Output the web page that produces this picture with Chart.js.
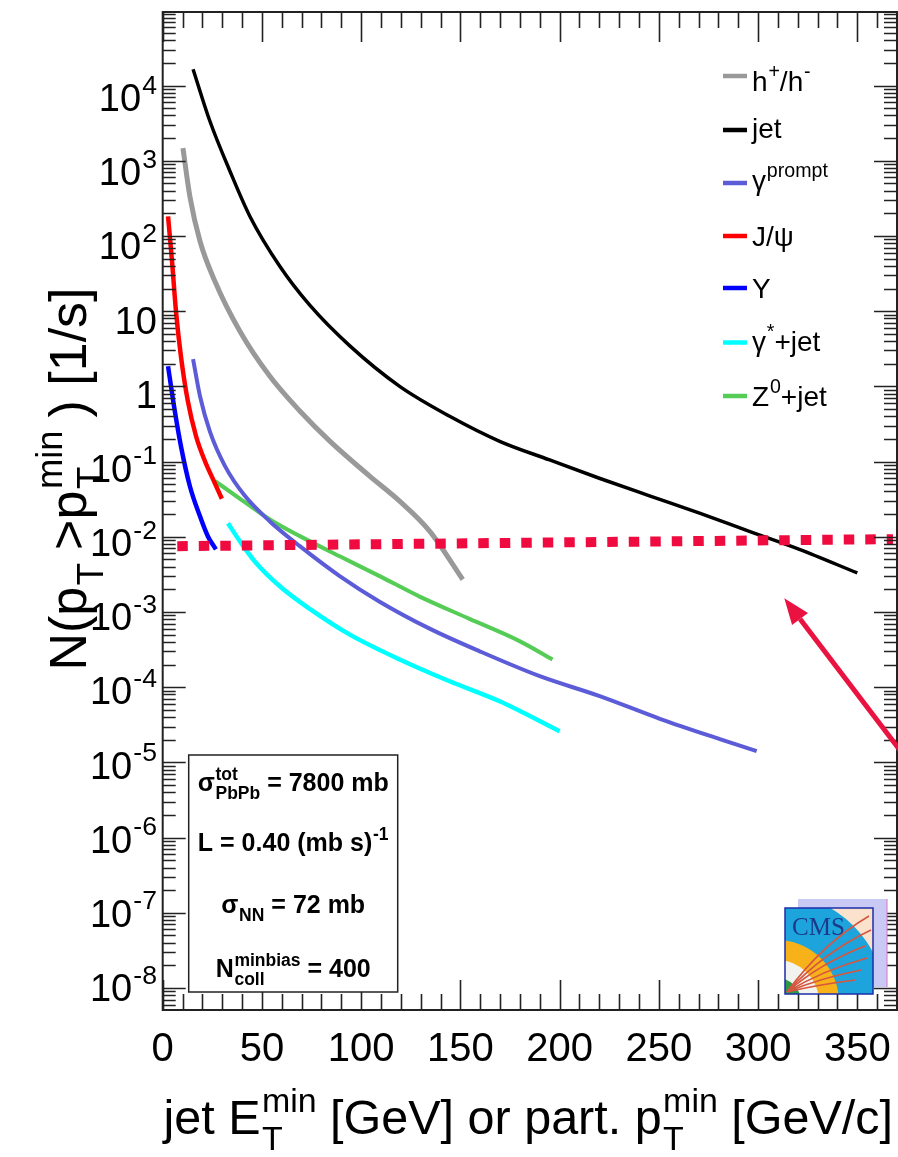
<!DOCTYPE html>
<html><head><meta charset="utf-8">
<script src="https://cdn.jsdelivr.net/npm/chart.js@4.4.0/dist/chart.umd.min.js"></script>
<style>html,body{margin:0;padding:0;background:#fff;}#wrap{width:898px;height:1157px;}</style>
</head><body><div id="wrap"><canvas id="c" width="898" height="1157"></canvas></div>
<script>
// ---------- data ----------
const xTickValues = [0, 50, 100, 150, 200, 250, 300, 350];
const yTickExponents = [-8, -7, -6, -5, -4, -3, -2, -1, 0, 1, 2, 3, 4];

const hadronX = [10.2, 13.7, 18.8, 26.3, 38.9, 54, 69.1, 84.2, 104.3, 119.4, 134.6, 151.2];
const hadronY = [1470, 335, 85, 25, 5.4, 1.36, 0.47, 0.187, 0.064, 0.0297, 0.0118, 0.0027];

const jetX = [15.3, 23.8, 33.9, 43.9, 59, 74.1, 94.3, 119.4, 144.6, 169.8, 195, 220, 245.3, 270.5, 295.6, 320.8, 350];
const jetY = [16500, 3350, 725, 183, 39.5, 12.0, 3.45, 1.0, 0.4, 0.186, 0.105, 0.060, 0.035, 0.0206, 0.0118, 0.0068, 0.0033];

const promptX = [15.3, 18.8, 23.8, 31.4, 41.4, 54, 69.1, 89.2, 109.3, 134.5, 159.7, 190, 220.2, 250.5, 280.7, 299.3];
const promptY = [2.3, 0.74, 0.25, 0.087, 0.035, 0.016, 0.0075, 0.003, 0.00137, 6e-4, 3e-4, 1.4e-4, 7.6e-5, 3.8e-5, 2.04e-5, 1.41e-5];

const jpsiX = [2.7, 4.7, 6.7, 9.2, 12.7, 16.8, 21.3, 25.8, 29.8];
const jpsiY = [182, 46, 9.9, 2.5, 0.63, 0.217, 0.101, 0.055, 0.032];

const upsX = [2.7, 5.7, 9.2, 13.7, 18.8, 22.8, 26.8];
const upsY = [1.85, 0.545, 0.16, 0.047, 0.0187, 0.0101, 0.0068];

const gstarX = [32.9, 38.9, 46.4, 59, 74.1, 94.3, 119.4, 144.6, 169.8, 200];
const gstarY = [0.0151, 0.0087, 0.0047, 0.0022, 0.0011, 5e-4, 2.34e-4, 1.2e-4, 6.5e-5, 2.6e-5];

const zjetX = [26.4, 39, 54, 69.1, 89.2, 109.3, 129.5, 154.6, 179.8, 196.4];
const zjetY = [0.055, 0.032, 0.017, 0.0102, 0.0055, 0.003, 0.0016, 8.1e-4, 4.1e-4, 2.34e-4];

const rateLimitX = [7.35, 368];
const rateLimitY = [7.5e-3, 9.3e-3];

const arrowX = [375, 313.2];
const arrowY = [1.1e-5, 1.52e-3];

const legendLabels = [
  ["h", {sup: "+"}, "/h", {sup: "-"}],
  ["jet"],
  ["\u03b3", {sup: "prompt"}],
  ["J/\u03c8"],
  ["\u03a5"],
  ["\u03b3", {sup: "*"}, "+jet"],
  ["Z", {sup: "0"}, "+jet"]
];
const infoLines = [
  ["\u03c3", {sup: "tot", sub: "PbPb"}, " = 7800 mb"],
  ["L = 0.40 (mb s)", {sup: "-1"}],
  ["\u03c3", {sub: "NN"}, " = 72 mb"],
  ["N", {sup: "minbias", sub: "coll"}, " = 400"]
];
const xTitle = ["jet E", {sup: "min", sub: "T"}, " [GeV] or part. p", {sup: "min", sub: "T"}, " [GeV/c]"];
const yTitle = ["N(p", {sub: "T"}, ">p", {sup: "min", sub: "T"}, ") [1/s]"];

// ---------- styles ----------
const FONT = '"Liberation Sans", Arial, Helvetica, sans-serif';
const series = [
  {x: hadronX, y: hadronY, color: '#999999', w: 5},
  {x: jetX, y: jetY, color: '#000000', w: 3.5},
  {x: promptX, y: promptY, color: '#5c5cd8', w: 4},
  {x: jpsiX, y: jpsiY, color: '#ff0000', w: 4.5},
  {x: upsX, y: upsY, color: '#0000ff', w: 4.5},
  {x: gstarX, y: gstarY, color: '#00ffff', w: 4.5},
  {x: zjetX, y: zjetY, color: '#55cc55', w: 4}
];
const legendBaseOff = [15, 8, 7, 10, 10, 8, 10];

function pts(xs, ys) { return xs.map((v, i) => ({x: v, y: ys[i]})); }

const datasets = [{
  data: pts(rateLimitX, rateLimitY), borderColor: '#ef0a3f', borderWidth: 10,
  borderDash: [10.5, 11], borderCapStyle: 'butt', fill: false, pointRadius: 0
}];
series.forEach(s => datasets.push({
  data: pts(s.x, s.y), borderColor: s.color, borderWidth: s.w, fill: false,
  pointRadius: 0, cubicInterpolationMode: 'monotone', borderJoinStyle: 'round'
}));

// ---------- rich text ----------
const SUPF = 0.7;
let EXTRA = 0;
function fnt(size, bold) { return (bold ? 'bold ' : '') + size + 'px ' + FONT; }
function partWidth(ctx, p, size, bold) {
  if (typeof p === 'string') { ctx.font = fnt(size, bold); return ctx.measureText(p).width; }
  ctx.font = fnt(size * SUPF, bold);
  const a = p.sup ? ctx.measureText(p.sup).width : 0;
  const b = p.sub ? ctx.measureText(p.sub).width : 0;
  return Math.max(a, b) + size * (0.03 + EXTRA);
}
function richWidth(ctx, parts, size, bold) {
  return parts.reduce((s, p) => s + partWidth(ctx, p, size, bold), 0);
}
function drawRich(ctx, parts, x, y, size, bold, color) {
  ctx.fillStyle = color || '#000';
  ctx.textBaseline = 'alphabetic';
  ctx.textAlign = 'left';
  let cx = x;
  parts.forEach(p => {
    if (typeof p === 'string') {
      ctx.font = fnt(size, bold); ctx.fillText(p, cx, y);
    } else {
      ctx.font = fnt(size * SUPF, bold);
      if (p.sup) ctx.fillText(p.sup, cx + size * 0.03, y - size * 0.46);
      if (p.sub) ctx.fillText(p.sub, cx + size * 0.03, y + size * 0.33);
    }
    cx += partWidth(ctx, p, size, bold);
  });
}

// ---------- plugins ----------
const bgPlugin = {
  id: 'bg',
  beforeDraw(c) { const g = c.ctx; g.save(); g.fillStyle = '#fff'; g.fillRect(0, 0, c.width, c.height); g.restore(); }
};

function drawLogo(g, L, T) {
  const S = 88, Hh = 86;
  g.save();
  g.fillStyle = '#c9c9f6'; g.fillRect(L + 13, T - 9, 89, 88);
  g.strokeStyle = '#e070c0'; g.lineWidth = 1; g.beginPath(); g.moveTo(L + 102, T - 9); g.lineTo(L + 102, T + 79); g.stroke();
  g.beginPath(); g.rect(L, T, S, Hh); g.clip();
  g.fillStyle = '#fbe2cc'; g.fillRect(L, T, S, Hh);
  const cx = L - 8, cy = T + Hh + 8;
  const ring = (r, col) => { g.fillStyle = col; g.beginPath(); g.moveTo(cx, cy); g.arc(cx, cy, r, 0, Math.PI * 2); g.fill(); };
  ring(108, '#1ea4dc'); ring(62, '#f7b21a'); ring(42, '#f2f2ee'); ring(24, '#2e9a48');
  g.fillStyle = '#1b3a8c'; g.font = '25px "Liberation Serif", "DejaVu Serif", serif'; g.textBaseline = 'alphabetic';
  g.fillText('CMS', L + 7, T + 27);
  g.strokeStyle = '#d8553e'; g.lineWidth = 1.6;
  const ends = [[84, 8], [86, 22], [80, 38], [82, 50], [76, 62], [70, 72]];
  ends.forEach(e => { g.beginPath(); g.moveTo(L + 2, T + Hh - 2); g.quadraticCurveTo(L + e[0] * 0.45, T + e[1] + (Hh - e[1]) * 0.35, L + e[0], T + e[1]); g.stroke(); });
  g.restore();
  g.save(); g.strokeStyle = '#1c2ea8'; g.lineWidth = 1.5; g.strokeRect(L, T, S, Hh); g.restore();
}

const decoPlugin = {
  id: 'deco',
  afterDraw(c) {
    const g = c.ctx, xs = c.scales.x, ys = c.scales.y, a = c.chartArea;
    g.save();
    // ticks
    g.strokeStyle = '#222'; g.lineWidth = 1.6;
    for (let d = -9; d <= 4; d++) {
      for (let m = 1; m <= 9; m++) {
        const v = m * Math.pow(10, d);
        if (v < ys.min || v > ys.max) continue;
        const py = Math.round(ys.getPixelForValue(v)) + 0.5;
        const len = m === 1 ? 23 : 13;
        g.beginPath(); g.moveTo(a.left, py); g.lineTo(a.left + len, py);
        g.moveTo(a.right, py); g.lineTo(a.right - len, py); g.stroke();
      }
    }
    for (let v = 0; v <= xs.max; v += 10) {
      const px = Math.round(xs.getPixelForValue(v)) + 0.5;
      const len = v % 50 === 0 ? 30 : 16;
      g.beginPath(); g.moveTo(px, a.top); g.lineTo(px, a.top + len);
      g.moveTo(px, a.bottom); g.lineTo(px, a.bottom - len); g.stroke();
    }
    g.lineWidth = 2; g.strokeStyle = '#222';
    g.strokeRect(a.left, a.top, a.right - a.left, a.bottom - a.top);

    // info box
    const bx = a.left + 26, by = 755, bw = 209, bh = 237;
    g.fillStyle = '#fff'; g.fillRect(bx, by, bw, bh);
    g.lineWidth = 1.5; g.strokeStyle = '#222'; g.strokeRect(bx, by, bw, bh);
    const infoBase = [791, 851, 913, 977];
    infoLines.forEach((ln, i) => {
      const w = richWidth(g, ln, 25, true);
      drawRich(g, ln, bx + bw / 2 - w / 2, infoBase[i], 25, true);
    });

    // legend
    const legY = [76, 130, 183, 236, 288, 342.5, 396];
    legendLabels.forEach((lab, i) => {
      const s = series[i];
      g.strokeStyle = s.color; g.lineWidth = 4.5; g.lineCap = 'butt';
      g.beginPath(); g.moveTo(723, legY[i]); g.lineTo(747, legY[i]); g.stroke();
      drawRich(g, lab, 752, legY[i] + legendBaseOff[i], 28, false);
    });

    // logo
    drawLogo(g, a.right - 112, a.bottom - 102);

    // arrow
    const x0 = xs.getPixelForValue(arrowX[0]), y0 = ys.getPixelForValue(arrowY[0]);
    const x1 = xs.getPixelForValue(arrowX[1]), y1 = ys.getPixelForValue(arrowY[1]);
    const ang = Math.atan2(y1 - y0, x1 - x0);
    const hl = 26, hw = 10;
    const bxp = x1 - hl * Math.cos(ang), byp = y1 - hl * Math.sin(ang);
    g.strokeStyle = '#ea1240'; g.fillStyle = '#ea1240'; g.lineWidth = 5;
    g.beginPath(); g.moveTo(x0, y0); g.lineTo(bxp, byp); g.stroke();
    g.beginPath(); g.moveTo(x1, y1);
    g.lineTo(bxp + hw * Math.sin(ang), byp - hw * Math.cos(ang));
    g.lineTo(bxp - hw * Math.sin(ang), byp + hw * Math.cos(ang));
    g.closePath(); g.fill();

    // x tick labels
    g.fillStyle = '#000'; g.font = fnt(40, false); g.textAlign = 'center'; g.textBaseline = 'alphabetic';
    xTickValues.forEach(v => g.fillText(String(v), xs.getPixelForValue(v), 1061));

    // y tick labels
    const ysz = 38;
    yTickExponents.forEach(e => {
      const py = ys.getPixelForValue(Math.pow(10, e));
      let parts;
      if (e === 0) parts = ['1'];
      else if (e === 1) parts = ['10'];
      else parts = ['10', {sup: String(e)}];
      const w = richWidth(g, parts, ysz, false);
      const off = 12 - (4 - e) * 1.05;
      drawRich(g, parts, 157 - w, py + off + 0.358 * ysz, ysz, false);
    });

    // x title
    EXTRA = 0;
    const tsz = 48.5;
    const xw = richWidth(g, xTitle, tsz, false);
    drawRich(g, xTitle, 893 - xw, 1134, tsz, false);

    // y title
    EXTRA = 0.25;
    const ysz2 = 52;
    const yw = richWidth(g, yTitle, ysz2, false);
    g.save(); g.translate(86, 479); g.rotate(-Math.PI / 2);
    drawRich(g, yTitle, -yw / 2, 0, ysz2, false);
    g.restore();
    EXTRA = 0;

    g.restore();
  }
};

const chart = new Chart(document.getElementById('c').getContext('2d'), {
  type: 'line',
  data: {datasets},
  options: {
    responsive: false, animation: false, devicePixelRatio: 1,
    layout: {padding: {top: 12, right: 1, left: 0, bottom: 0}},
    plugins: {legend: {display: false}, tooltip: {enabled: false}},
    elements: {point: {radius: 0}, line: {tension: 0}},
    scales: {
      x: {type: 'linear', min: 0, max: 370, grid: {display: false}, border: {display: false},
          ticks: {display: false, stepSize: 50}, afterFit(s) { s.height = 147; }},
      y: {type: 'logarithmic', min: 5.1e-9, max: 9.5e4, grid: {display: false}, border: {display: false},
          ticks: {display: false}, afterFit(s) { s.width = 162.7; }}
    }
  },
  plugins: [bgPlugin, decoPlugin]
});
</script></body></html>
